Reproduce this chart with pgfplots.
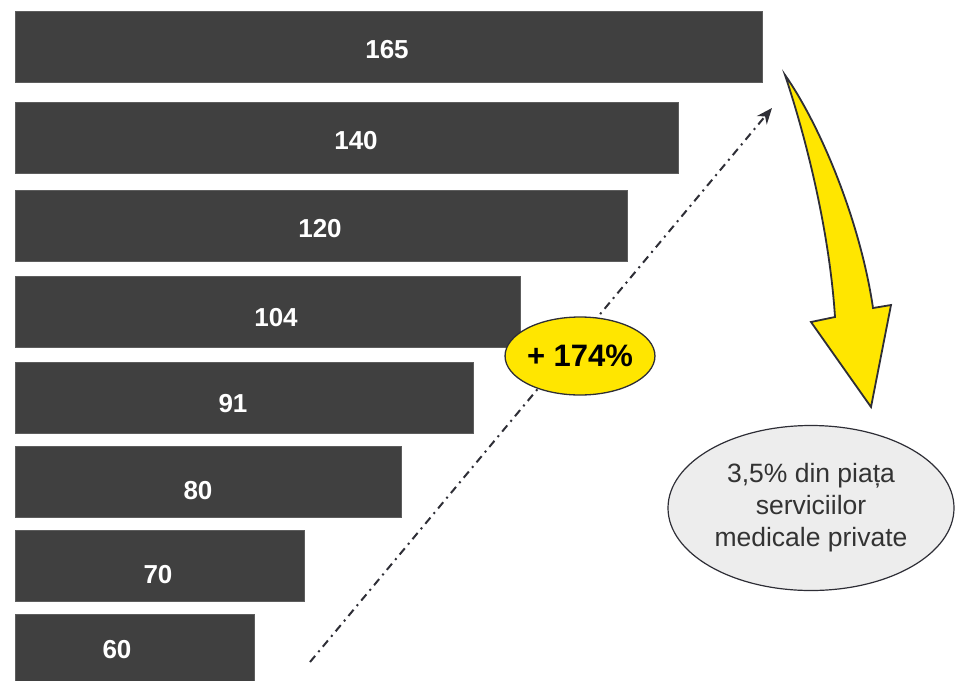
\documentclass[border=0pt]{standalone}
\usepackage{pgfplots}
\pgfplotsset{compat=1.18}
\usepackage{pgfplotstable}
\usepackage{fontspec}
\setmainfont{Liberation Sans}
\usetikzlibrary{shapes.geometric,arrows.meta}
\definecolor{bargrey}{HTML}{404040}
\definecolor{ylw}{HTML}{FFE600}
\definecolor{outl}{HTML}{2E2E36}
\definecolor{lightg}{HTML}{EDEDED}

% bar lengths as drawn (px), vertical positions (px), shown value
\pgfplotstableread{
len ypos lab
747 47  165
663 138 140
612 226 120
505 312 104
458 398 91
386 482 80
289 566 70
239 650 60
}\bars
\pgfplotstableread{
xp  yp  lab
372 50  165
341 141 140
305 229 120
261 318 104
218 404 91
183 491 80
143 575 70
102 650 60
}\labs

\begin{document}
\begin{tikzpicture}
\begin{axis}[
  width=955pt, height=680pt, scale only axis,
  hide axis,
  xmin=-15, xmax=940,
  ymin=0, ymax=680, y dir=reverse,
  clip=true,
]
\addplot[xbar, bar width=71, fill=bargrey, draw=bargrey!85!white, bar shift=0pt]
  table[x=len, y=ypos] {\bars};
\addplot[only marks, mark=none,
  nodes near coords, point meta=explicit symbolic,
  nodes near coords style={anchor=center, text=white,
    font=\fontsize{26}{30}\selectfont\bfseries}]
  table[x=xp, y=yp, meta=lab] {\labs};

% dash-dot trend arrow
\draw[outl, line width=2pt, dash pattern=on 8pt off 5pt on 2pt off 5pt,
  -{Stealth[length=16pt,width=13pt]}]
  (axis cs:295,662) -- (axis cs:757,108);

% yellow bubble
\node[ellipse, draw=outl, line width=1.3pt, fill=ylw,
  minimum width=144pt, minimum height=78pt, inner sep=0pt,
  font=\fontsize{31}{34}\selectfont\bfseries]
  at (axis cs:565,356) {+ 174\%};

% curved yellow arrow
\draw[outl, line width=1.8pt, fill=ylw, line join=miter]
  (axis cs:770,75) .. controls (axis cs:805,125) and (axis cs:845,220) ..
  (axis cs:858,308) -- (axis cs:876,305) -- (axis cs:856,407) --
  (axis cs:796,322) -- (axis cs:820,317)
  .. controls (axis cs:815,240) and (axis cs:795,150) .. cycle;

% grey ellipse
\node[ellipse, draw=outl, line width=1.2pt, fill=lightg,
  minimum width=286pt, minimum height=165pt, inner sep=0pt,
  align=center, text=black!80,
  font=\fontsize{26.5}{32}\selectfont]
  at (axis cs:796,508) {3,5\% din piața\\serviciilor\\medicale private};
\end{axis}
\pgfresetboundingbox
\path[use as bounding box] (current axis.south west) rectangle (current axis.north east);
\end{tikzpicture}
\end{document}
